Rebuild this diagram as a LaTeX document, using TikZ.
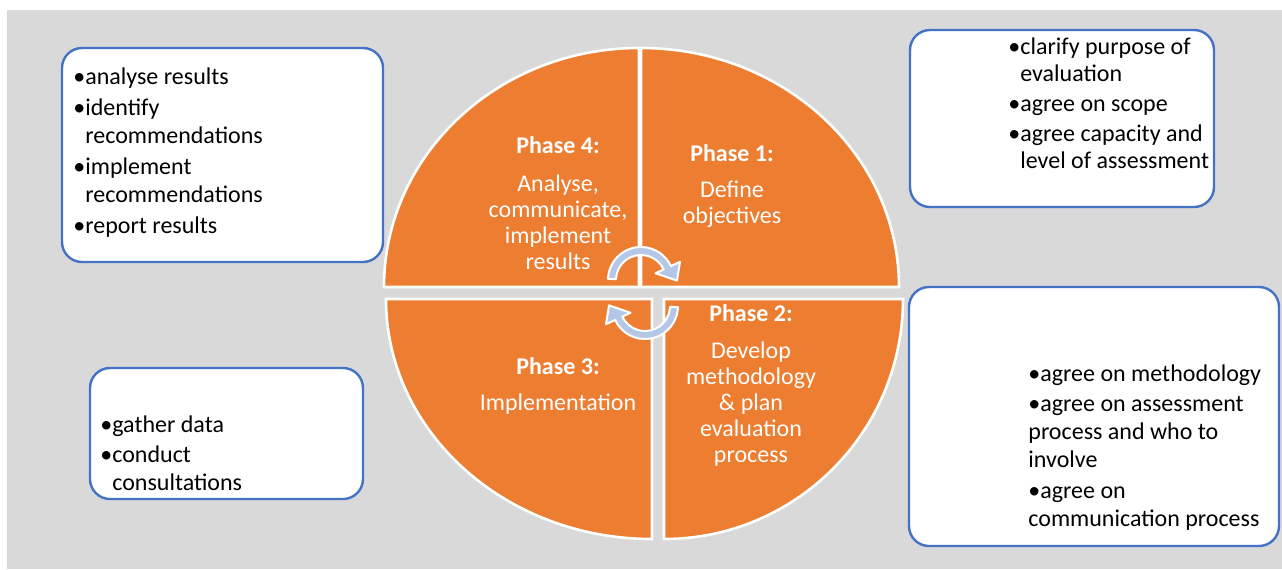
\documentclass[tikz,border=0pt]{standalone}
\usepackage{fontspec}
\setmainfont{Carlito}
\usetikzlibrary{positioning}
\definecolor{phaseorange}{HTML}{ED7D31}
\definecolor{panelgray}{HTML}{D9D9D9}
\definecolor{boxblue}{HTML}{4472C4}
\definecolor{cyclearrow}{HTML}{B4C7E7}
\newcommand{\bul}{\textbullet}
\newcommand{\indentbul}{\hphantom{\textbullet}}

\begin{document}
\begin{tikzpicture}[
    x=0.5pt, y=-0.5pt,
    every node/.style={font=\fontsize{12}{13}\selectfont},
    quarter/.style={fill=phaseorange, draw=white, line width=1.3pt},
    turn/.style={fill=cyclearrow, draw=white, line width=1pt, line join=round},
    phase/.style={align=center, text=white, anchor=north, inner sep=0pt},
    infobox/.style={draw=boxblue, fill=white, line width=1.2pt, rounded corners=10pt},
    points/.style={align=left, anchor=north west, inner sep=0pt, font=\fontsize{12}{14}\selectfont}
]
\useasboundingbox (0,0) rectangle (1282,569);
\fill[panelgray] (7,10) rectangle (1282,569);

% the four quarters of the cycle
\draw[quarter] (639,287) -- (384,287) arc[start angle=180, end angle=270, x radius=255, y radius=239] -- cycle;
\draw[quarter] (641,287) -- (641,48) arc[start angle=270, end angle=360, x radius=258, y radius=239] -- cycle;
\draw[quarter] (664,299) -- (903,299) arc[start angle=0, end angle=90, x radius=239, y radius=240] -- cycle;
\draw[quarter] (652,299) -- (652,539) arc[start angle=90, end angle=180, x radius=266, y radius=240] -- cycle;

% turning arrows in the middle
\draw[turn, shift={(641,280)}] (182:33) arc[start angle=182, end angle=335, radius=33] -- (335:43) -- (1:36) -- (335:16) -- (335:25) arc[start angle=335, end angle=182, radius=25] -- cycle;
\draw[turn, shift={(645,306)}] (2:33) arc[start angle=2, end angle=155, radius=33] -- (155:43) -- (181:36) -- (155:16) -- (155:25) arc[start angle=155, end angle=2, radius=25] -- cycle;

\node[phase] (phasefour) at (558,136) {\textbf{Phase 4:}\\[6pt]Analyse,\\communicate,\\implement\\results};
\node[phase] (phaseone) at (732,144) {\textbf{Phase 1:}\\[5pt]Define\\objectives};
\node[phase] (phasetwo) at (751,304) {\textbf{Phase 2:}\\[5.5pt]Develop\\methodology\\\& plan\\evaluation\\process};
\node[phase] (phasethree) at (558,357) {\textbf{Phase 3:}\\[5pt]Implementation};

\node[infobox, minimum width=160.5pt, minimum height=107pt] (analysebox) at (222.5,155) {};
\node[infobox, minimum width=152pt, minimum height=88.5pt] (definebox) at (1062,118.5) {};
\node[infobox, minimum width=136.5pt, minimum height=65.5pt] (implementbox) at (226.5,433.5) {};
\node[infobox, minimum width=185pt, minimum height=129.5pt] (developbox) at (1094,416.5) {};

\node[points] (analyselist) at (73,67) {\bul analyse results\\[1.5pt]\bul identify\\\indentbul recommendations\\[1.5pt]\bul implement\\\indentbul recommendations\\[1.5pt]\bul report results};
\node[points, font=\fontsize{12}{13.5}\selectfont] (definelist) at (1008,37) {\bul clarify purpose of\\\indentbul evaluation\\[1.5pt]\bul agree on scope\\[1.5pt]\bul agree capacity and\\\indentbul level of assessment};
\node[points] (implementlist) at (100,415) {\bul gather data\\[1pt]\bul conduct\\\indentbul consultations};
\node[points] (developlist) at (1028,364) {\bul agree on methodology\\[1pt]\bul agree on assessment\\process and who to\\involve\\[1.5pt]\bul agree on\\communication process};
\end{tikzpicture}
\end{document}
